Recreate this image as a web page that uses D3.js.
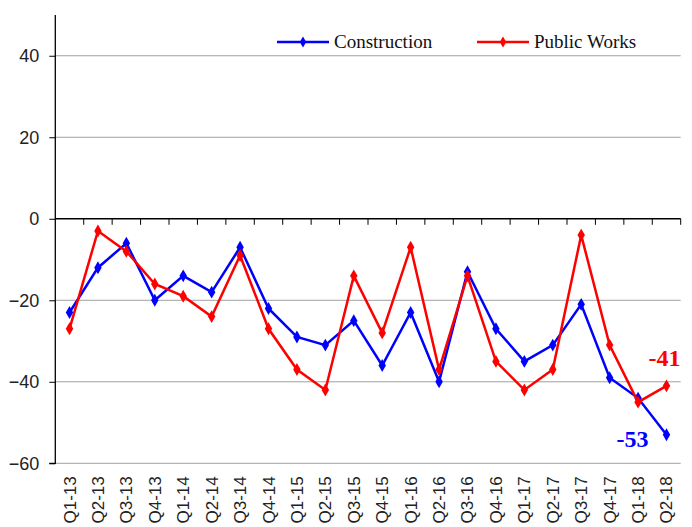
<!DOCTYPE html>
<html>
<head>
<meta charset="utf-8">
<script src="https://cdn.jsdelivr.net/npm/d3@7"></script>
<style>
  body { margin: 0; background: #fff; }
  svg { display: block; }
</style>
</head>
<body>
<script>
// chart data
const quarters = ["Q1-13","Q2-13","Q3-13","Q4-13","Q1-14","Q2-14","Q3-14","Q4-14","Q1-15","Q2-15","Q3-15",
                  "Q4-15","Q1-16","Q2-16","Q3-16","Q4-16","Q1-17","Q2-17","Q3-17","Q4-17","Q1-18","Q2-18"]
const construction = [-23,-12,-6,-20,-14,-18,-7,-22,-29,-31,-25,-36,-23,-40,-13,-27,-35,-31,-21,-39,-44,-53]
const publicWorks = [-27,-3,-8,-16,-19,-24,-9,-27,-37,-42,-14,-28,-7,-37,-14,-35,-42,-37,-4,-31,-45,-41]
const yTicks = [-60,-40,-20,0,20,40]
const seriesNames = ["Construction", "Public Works"]
const seriesColors = ["#0000ff", "#ff0000"]

const w = 692
const h = 527
const plotLeft = 55.3, plotRight = 680.7, plotTop = 15, plotBottom = 463.3

const svg = d3.select("body")
    .append("svg")
    .attr("width", w)
    .attr("height", h)

const xScale = d3.scaleBand()
    .domain(quarters)
    .range([plotLeft, plotRight])

const yScale = d3.scaleLinear()
    .domain([-60, 50])
    .range([plotBottom, plotTop])

const cx = d => xScale(d) + xScale.bandwidth() / 2

// gridlines
svg.append("g")
    .selectAll("line")
    .data(yTicks.filter(d => d != 0))
    .enter()
    .append("line")
    .attr("x1", plotLeft)
    .attr("x2", plotRight)
    .attr("y1", d => yScale(d))
    .attr("y2", d => yScale(d))
    .attr("stroke", "#a0a0a0")
    .attr("stroke-width", 1)

// y axis
const yAxis = d3.axisLeft(yScale).tickValues(yTicks).tickSize(6).tickPadding(10)
const gy = svg.append("g")
    .attr("transform", `translate(${plotLeft},0)`)
    .call(yAxis)
gy.select(".domain").attr("d", `M-6,${plotBottom}H0V${plotTop}`).attr("stroke", "#000").attr("stroke-width", 1.3)
gy.selectAll(".tick line").attr("stroke", "#000")
gy.selectAll("text")
    .attr("font-family", "Liberation Sans, Arial, sans-serif")
    .attr("font-size", 18)
    .attr("fill", "#222")

// x axis at zero with ticks between categories
const gx = svg.append("g")
    .attr("transform", `translate(0,${yScale(0)})`)
gx.append("line")
    .attr("x1", plotLeft).attr("x2", plotRight)
    .attr("stroke", "#000").attr("stroke-width", 1.3)
gx.selectAll(".tk")
    .data(quarters)
    .enter()
    .append("line")
    .attr("x1", d => xScale(d) + xScale.bandwidth())
    .attr("x2", d => xScale(d) + xScale.bandwidth())
    .attr("y1", 0).attr("y2", 6)
    .attr("stroke", "#000")

// category labels at the bottom, rotated
svg.append("g")
    .selectAll("text")
    .data(quarters)
    .enter()
    .append("text")
    .attr("transform", d => `translate(${cx(d) + 6},${plotBottom + 13}) rotate(-90)`)
    .attr("text-anchor", "end")
    .attr("font-family", "Liberation Sans, Arial, sans-serif")
    .attr("font-size", 17)
    .attr("fill", "#222")
    .text(d => d)

// lines
const line = d3.line()
    .x((d, i) => cx(quarters[i]))
    .y(d => yScale(d))

const diamond = d3.symbol().type(d3.symbolDiamond).size(48)

;[construction, publicWorks].forEach((data, k) => {
    svg.append("path")
        .datum(data)
        .attr("fill", "none")
        .attr("stroke", seriesColors[k])
        .attr("stroke-width", 2.5)
        .attr("d", line)

    svg.append("g")
        .selectAll("path")
        .data(data)
        .enter()
        .append("path")
        .attr("d", diamond)
        .attr("transform", (d, i) => `translate(${cx(quarters[i])},${yScale(d)})`)
        .attr("fill", seriesColors[k])
})

// end value labels
const last = quarters.length - 1
svg.append("text")
    .attr("x", cx(quarters[last]) + 14)
    .attr("y", yScale(publicWorks[last]) - 20)
    .attr("text-anchor", "end")
    .attr("font-family", "Liberation Serif, Times New Roman, serif")
    .attr("font-weight", "bold")
    .attr("font-size", 24)
    .attr("fill", seriesColors[1])
    .text(publicWorks[last])

svg.append("text")
    .attr("x", cx(quarters[last]) - 18)
    .attr("y", yScale(construction[last]) + 12)
    .attr("text-anchor", "end")
    .attr("font-family", "Liberation Serif, Times New Roman, serif")
    .attr("font-weight", "bold")
    .attr("font-size", 24)
    .attr("fill", seriesColors[0])
    .text(construction[last])

// legend
const legendX = [277, 477]
const legendMark = d3.symbol().type(d3.symbolDiamond).size(36)
seriesNames.forEach((name, k) => {
    const g = svg.append("g").attr("transform", `translate(${legendX[k]},42)`)
    g.append("line")
        .attr("x1", 0).attr("x2", 52)
        .attr("stroke", seriesColors[k]).attr("stroke-width", 2.5)
    g.append("path")
        .attr("d", legendMark)
        .attr("transform", "translate(26,0)")
        .attr("fill", seriesColors[k])
    g.append("text")
        .attr("x", 57)
        .attr("y", 6)
        .attr("font-family", "Liberation Serif, Times New Roman, serif")
        .attr("font-size", 19)
        .attr("fill", "#111")
        .text(name)
})
</script>
</body>
</html>
